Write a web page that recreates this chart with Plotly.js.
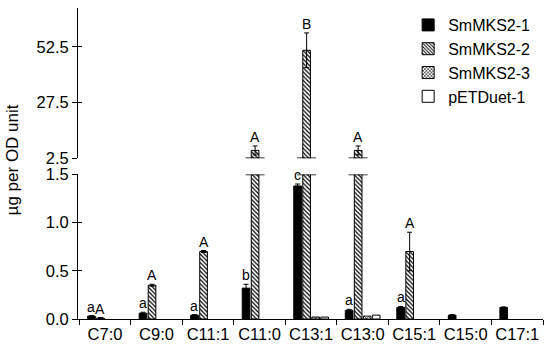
<!DOCTYPE html>
<html>
<head>
<meta charset="utf-8">
<script src="https://cdn.plot.ly/plotly-3.0.1.min.js"></script>
<style>
  body { margin: 0; }
  #chart { width: 550px; height: 350px; }
</style>
</head>
<body>
<div id="chart"></div>
<script>
// fatty acid yields per strain (null = not detected)
const categories = ["C7:0", "C9:0", "C11:1", "C11:0", "C13:1", "C13:0", "C15:1", "C15:0", "C17:1"];

const mks1 = [0.03, 0.06, 0.04, 0.32, 1.38, 0.09, 0.12, 0.04, 0.12];
const mks1Err = [0.005, 0.01, 0.005, 0.04, 0.02, 0.01, 0.01, 0.005, 0.005];
const mks1Letters = ["a", "a", "a", "b", "c", "a", "a", "", ""];

const mks2 = [0.01, 0.35, 0.70, 6, 51, 6, 0.70, null, null];
const mks2Err = [0.005, 0.01, 0.01, 2, 7.8, 2, 0.2, 0, 0];
const mks2Letters = ["A", "A", "A", "A", "B", "A", "A", "", ""];

const mks3 = [null, null, null, null, 0.02, 0.03, null, null, null];
const pet = [null, null, null, null, 0.02, 0.04, null, null, null];

const lowTicks = [0, 0.5, 1.0, 1.5];
const highTicks = [2.5, 27.5, 52.5];

// layout numbers
const W = 550, H = 350;
const margin = { l: 78, r: 7, t: 8, b: 31 };
const bargap = 0.3;
const lowTop = 1.5, highBottom = 2.5;
const catPx = (W - margin.l - margin.r) / categories.length;
const pitch = (1 - bargap) * catPx / 4;
const font = "Liberation Sans, Arial, sans-serif";

const series = [
  { name: "SmMKS2-1", y: mks1, err: mks1Err, color: "black", pattern: { shape: "" } },
  { name: "SmMKS2-2", y: mks2, err: mks2Err, color: "white",
    pattern: { shape: "\\", fgcolor: "black", bgcolor: "white", size: 3, solidity: 0.4 } },
  { name: "SmMKS2-3", y: mks3, err: null, color: "white",
    pattern: { shape: "x", fgcolor: "black", bgcolor: "white", size: 3, solidity: 0.4 } },
  { name: "pETDuet-1", y: pet, err: null, color: "white", pattern: { shape: "" } },
];

const data = [];
["y", "y2"].forEach(function (ax) {
  series.forEach(function (s) {
    const t = {
      type: "bar",
      name: s.name,
      x: categories,
      y: s.y,
      yaxis: ax,
      legendgroup: s.name,
      showlegend: ax === "y",
      marker: { color: s.color, pattern: s.pattern, line: { color: "black", width: 1 } },
      hoverinfo: "skip",
    };
    if (s.err) {
      t.error_y = { type: "data", array: s.err, visible: true, color: "black", thickness: 1, width: 2.5 };
    }
    data.push(t);
  });
});

// invisible traces so the overlay axes (inner tick halves) get drawn
data.push({ type: "scatter", x: [categories[0]], y: [0], yaxis: "y3", mode: "markers",
  marker: { opacity: 0 }, showlegend: false, hoverinfo: "skip" });
data.push({ type: "scatter", x: [categories[0]], y: [30], yaxis: "y4", mode: "markers",
  marker: { opacity: 0 }, showlegend: false, hoverinfo: "skip" });

// significance letters above error bars
const annotations = [];
[[mks1, mks1Err, mks1Letters, 0], [mks2, mks2Err, mks2Letters, 1]].forEach(function (g) {
  const vals = g[0], errs = g[1], letters = g[2], idx = g[3];
  letters.forEach(function (txt, i) {
    if (!txt) return;
    const top = vals[i] + errs[i];
    annotations.push({
      text: txt,
      x: categories[i],
      xshift: (idx - 1.5) * pitch,
      y: top,
      yref: top > highBottom ? "y2" : "y",
      yanchor: "bottom",
      yshift: -1,
      showarrow: false,
      font: { family: font, size: 14, color: "black" },
    });
  });
});

annotations.push({
  text: "µg per OD unit",
  xref: "paper", yref: "paper",
  x: (12 - margin.l) / (W - margin.l - margin.r), y: 0.51,
  xanchor: "center", yanchor: "middle",
  textangle: -90,
  showarrow: false,
  font: { family: font, size: 17, color: "black" },
});

// break marks on the bars running past the lower panel
const shapes = [];
mks2.forEach(function (v, i) {
  if (v === null || v <= lowTop) return;
  const off = -0.5 * pitch;
  [["y2", highBottom], ["y", lowTop]].forEach(function (p) {
    shapes.push({
      type: "line",
      xref: "x", xsizemode: "pixel", xanchor: categories[i],
      x0: off - 9.5, x1: off + 9.5,
      yref: p[0], y0: p[1], y1: p[1],
      line: { color: "black", width: 1.5 },
    });
  });
});

const lowDomain = [0, 0.465];
const highDomain = [0.517, 1];

const layout = {
  width: W,
  height: H,
  margin: margin,
  paper_bgcolor: "white",
  plot_bgcolor: "white",
  font: { family: font, size: 16, color: "black" },
  barmode: "group",
  bargap: bargap,
  bargroupgap: 0.15,
  showlegend: true,
  legend: {
    x: 0.71, y: 1.0, xanchor: "left", yanchor: "top",
    font: { family: font, size: 16, color: "black" },
    itemwidth: 30,
    tracegroupgap: 0,
    bgcolor: "rgba(0,0,0,0)",
  },
  xaxis: {
    type: "category",
    showline: true, linecolor: "black", linewidth: 1,
    ticks: "outside", tickson: "boundaries", ticklen: 5, tickcolor: "black",
    tickangle: 0,
    tickfont: { family: font, size: 16.5, color: "black" },
    showgrid: false, zeroline: false,
    anchor: "y",
  },
  yaxis: {
    domain: lowDomain,
    range: [0, lowTop],
    tickvals: lowTicks,
    tickformat: ".1f",
    showline: true, linecolor: "black", linewidth: 1,
    ticks: "outside", ticklen: 5, tickcolor: "black",
    tickfont: { family: font, size: 16.5, color: "black" },
    showgrid: false, zeroline: false,
    anchor: "x",
  },
  yaxis2: {
    domain: highDomain,
    range: [highBottom, 70],
    tickvals: highTicks,
    tickformat: ".1f",
    showline: true, linecolor: "black", linewidth: 1,
    ticks: "outside", ticklen: 5, tickcolor: "black",
    tickfont: { family: font, size: 16.5, color: "black" },
    showgrid: false, zeroline: false,
    anchor: "x",
  },
  yaxis3: {
    overlaying: "y",
    range: [0, lowTop],
    tickvals: lowTicks,
    ticks: "inside", ticklen: 4, tickcolor: "black",
    showticklabels: false, showline: false, showgrid: false, zeroline: false,
    anchor: "x",
  },
  yaxis4: {
    overlaying: "y2",
    range: [highBottom, 70],
    tickvals: highTicks,
    ticks: "inside", ticklen: 4, tickcolor: "black",
    showticklabels: false, showline: false, showgrid: false, zeroline: false,
    anchor: "x",
  },
  annotations: annotations,
  shapes: shapes,
};

Plotly.newPlot("chart", data, layout, { staticPlot: true });
</script>
</body>
</html>
